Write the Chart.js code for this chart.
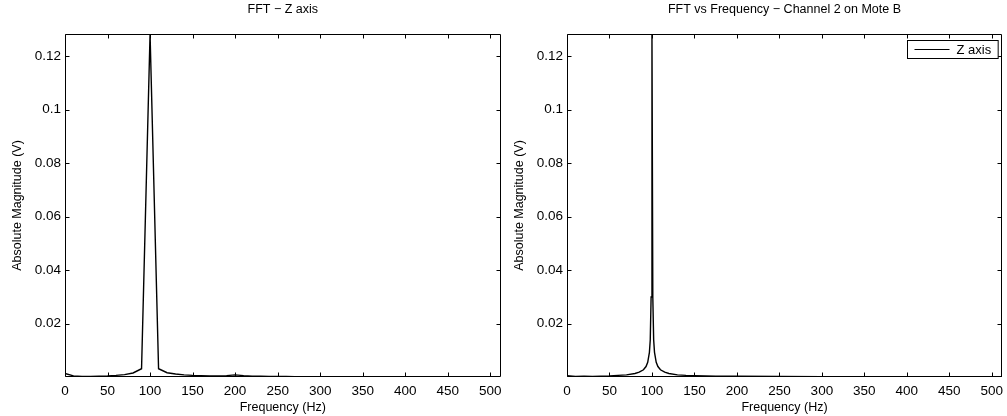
<!DOCTYPE html>
<html>
<head>
<meta charset="utf-8">
<title>FFT plots</title>
<script src="https://cdn.jsdelivr.net/npm/chart.js@4/dist/chart.umd.min.js"></script>
<style>
  html, body { margin: 0; padding: 0; background: #fff; }
  #page { position: relative; width: 1007px; height: 416px; overflow: hidden; }
  .panel { position: absolute; top: 0; height: 416px; }
  #leftBox { left: 0; width: 503px; }
  #rightBox { left: 503px; width: 504px; }
</style>
</head>
<body>
<div id="page">
  <div class="panel" id="leftBox"><canvas id="leftChart"></canvas></div>
  <div class="panel" id="rightBox"><canvas id="rightChart"></canvas></div>
</div>
<script>
// values (frequency in Hz, magnitude in V)
const leftFreqs = [0, 10, 20, 30, 40, 50, 60, 70, 80, 90, 100, 110, 120, 130, 140, 150, 160, 170, 180, 190,
  200, 210, 220, 230, 240, 250, 260, 270, 280, 290, 300, 310, 320, 330, 340, 350, 360, 370, 380, 390,
  400, 410, 420, 430, 440, 450, 460, 470, 480, 490, 500, 510];
const leftMags = [0.0014, 0.0005, 0.0003, 0.0003, 0.0004, 0.0005, 0.0007, 0.0010, 0.0016, 0.0032,
  0.1282, 0.0032, 0.0017, 0.0012, 0.0009, 0.0007, 0.0006, 0.0005, 0.0005, 0.0006,
  0.0009, 0.0006, 0.0004, 0.0004, 0.0003, 0.0003, 0.0003, 0.0002, 0.0002, 0.0002,
  0.0002, 0.0002, 0.0002, 0.0002, 0.0002, 0.0002, 0.0002, 0.0001, 0.0001, 0.0001,
  0.0001, 0.0001, 0.0001, 0.0001, 0.0001, 0.0001, 0.0001, 0.0001, 0.0001, 0.0001, 0.0001, 0.0001];

const rightFreqs = [0, 10, 20, 30, 40, 50, 60, 70, 80, 85, 90, 93, 95, 97, 98, 99, 100,
  101, 102, 103, 105, 107, 110, 115, 120, 130, 140, 150, 175, 200, 250, 300, 350, 400, 450, 500, 512];
const rightMags = [0.0006, 0.0003, 0.0004, 0.0003, 0.0004, 0.0005, 0.0007, 0.0009, 0.0014, 0.0019,
  0.0028, 0.0040, 0.0056, 0.0093, 0.0140, 0.0300, 0.1282,
  0.0300, 0.0140, 0.0093, 0.0056, 0.0040, 0.0028, 0.0019, 0.0014, 0.0009, 0.0007, 0.0006,
  0.0004, 0.0004, 0.0003, 0.0002, 0.0002, 0.0002, 0.0002, 0.0002, 0.0002];

const xTicks = [0, 50, 100, 150, 200, 250, 300, 350, 400, 450, 500];
const yTicks = [0.02, 0.04, 0.06, 0.08, 0.1, 0.12];

const FONT = 'Helvetica, Arial, "Liberation Sans", sans-serif';

// MATLAB style: closed box with inward ticks
const boxPlugin = {
  id: 'box',
  afterDraw(chart) {
    const ctx = chart.ctx;
    const a = chart.chartArea;
    const xs = chart.scales.x;
    const ys = chart.scales.y;
    const L = Math.round(a.left) + 0.5, R = Math.round(a.right) - 0.5;
    const T = Math.round(a.top) + 0.5, B = Math.round(a.bottom) - 0.5;
    ctx.save();
    ctx.strokeStyle = '#000';
    ctx.lineWidth = 1;
    ctx.beginPath();
    ctx.rect(L, T, R - L, B - T);
    xTicks.forEach(v => {
      const px = Math.round(xs.getPixelForValue(v)) + 0.5;
      ctx.moveTo(px, B); ctx.lineTo(px, B - 4);
      ctx.moveTo(px, T); ctx.lineTo(px, T + 4);
    });
    yTicks.forEach(v => {
      const py = Math.round(ys.getPixelForValue(v)) + 0.5;
      ctx.moveTo(L, py); ctx.lineTo(L + 4, py);
      ctx.moveTo(R, py); ctx.lineTo(R - 4, py);
    });
    ctx.stroke();

    // legend box (only where asked)
    if (chart.options.plugins.box && chart.options.plugins.box.legend) {
      const label = chart.data.datasets[0].label;
      ctx.font = '13px ' + FONT;
      const tw = ctx.measureText(label).width;
      const w = 7 + 35 + 7 + tw + 7;
      const h = 18;
      const x0 = Math.round(a.right - 4 - w) + 0.5;
      const y0 = Math.round(a.top + 6) + 0.5;
      ctx.fillStyle = '#fff';
      ctx.fillRect(x0, y0, w, h);
      ctx.strokeRect(x0, y0, w, h);
      ctx.beginPath();
      ctx.moveTo(x0 + 7, y0 + h / 2);
      ctx.lineTo(x0 + 42, y0 + h / 2);
      ctx.stroke();
      ctx.fillStyle = '#000';
      ctx.textBaseline = 'middle';
      ctx.fillText(label, x0 + 49, y0 + h / 2 + 0.5);
    }
    ctx.restore();
  }
};

function makeChart(canvasId, freqs, mags, titleText, yWidth, titlePad, padRight, withLegend) {
  const points = freqs.map((f, i) => ({ x: f, y: mags[i] }));
  return new Chart(document.getElementById(canvasId), {
    type: 'line',
    data: {
      datasets: [{
        label: 'Z axis',
        data: points,
        borderColor: '#000',
        borderWidth: 1.4,
        pointRadius: 0,
        tension: 0,
        fill: false
      }]
    },
    options: {
      responsive: true,
      maintainAspectRatio: false,
      animation: false,
      layout: { padding: { left: 0, right: padRight, top: 0, bottom: 0 } },
      plugins: {
        legend: { display: false },
        tooltip: { enabled: false },
        box: { legend: withLegend },
        title: {
          display: true,
          text: titleText,
          fullSize: false,
          color: '#000',
          font: { family: FONT, size: 12.5, weight: 'normal', lineHeight: 1.2 },
          padding: { top: 2, bottom: 17 }
        }
      },
      scales: {
        x: {
          type: 'linear',
          min: 0,
          max: 512,
          afterBuildTicks: s => { s.ticks = xTicks.map(v => ({ value: v })); },
          afterFit: s => { s.height = 39; s.paddingLeft = 0; s.paddingRight = 0; },
          grid: { display: true, drawOnChartArea: false, drawTicks: false },
          border: { display: false },
          ticks: {
            color: '#000',
            padding: 6,
            maxRotation: 0,
            font: { family: FONT, size: 13.5 },
            callback: v => String(v)
          },
          title: {
            display: true,
            text: 'Frequency (Hz)',
            color: '#000',
            font: { family: FONT, size: 12.5, lineHeight: 1.2 },
            padding: { top: 0, bottom: 1 }
          }
        },
        y: {
          type: 'linear',
          min: 0.0001,
          max: 0.1282,
          afterBuildTicks: s => { s.ticks = yTicks.map(v => ({ value: v })); },
          afterFit: s => { s.width = yWidth; s.paddingTop = 0; s.paddingBottom = 0; },
          grid: { display: true, drawOnChartArea: false, drawTicks: false },
          border: { display: false },
          ticks: {
            color: '#000',
            padding: 4,
            font: { family: FONT, size: 13.5 },
            callback: v => String(Number(v.toFixed(2)))
          },
          title: {
            display: true,
            text: 'Absolute Magnitude (V)',
            color: '#000',
            font: { family: FONT, size: 12.5, lineHeight: 1.2 },
            padding: { top: titlePad, bottom: 0 }
          }
        }
      }
    },
    plugins: [boxPlugin]
  });
}

makeChart('leftChart', leftFreqs, leftMags, 'FFT \u2212 Z axis', 65, 10.5, 2.5, false);
makeChart('rightChart', rightFreqs, rightMags, 'FFT vs Frequency \u2212 Channel 2 on Mote B', 64, 9.5, 5, true);
</script>
</body>
</html>
